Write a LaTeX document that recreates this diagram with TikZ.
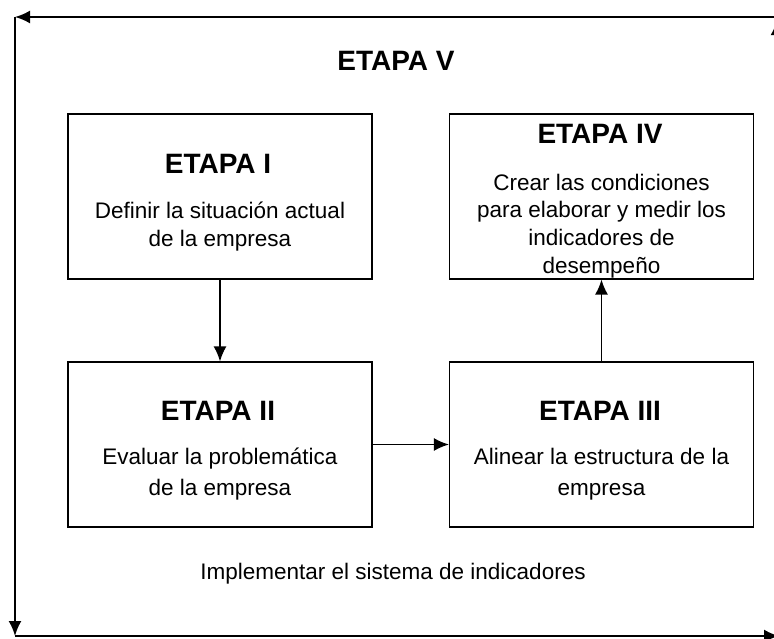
\documentclass[tikz,border=0pt]{standalone}
\usepackage{fontspec}
\setmainfont{Liberation Sans}
\usetikzlibrary{arrows.meta,positioning,calc}

\begin{document}
\begin{tikzpicture}[
    x=1pt, y=-1pt,
    >={Latex[length=15pt,width=13pt]},
    stage/.style={rectangle, draw, line width=1.3pt, inner sep=0pt, minimum width=304, minimum height=165},
    title/.style={anchor=base, font=\bfseries\fontsize{28}{32}\selectfont},
    txt/.style={anchor=base, align=center, font=\fontsize{22.5}{27.5}\selectfont},
    wide/.style={font=\fontsize{22.5}{31.5}\selectfont},
    link/.style={->, line width=1.4pt},
    frame/.style={->, line width=2pt}
]
    \useasboundingbox (0,0) rectangle (774,639);

    % Outer cycle (Etapa V)
    \coordinate (tl) at (15,17);
    \coordinate (bl) at (15,636);
    \coordinate (br) at (779,636);
    \coordinate (tr) at (777,17);
    \coordinate (tr2) at (777,20);
    \draw[frame] (tr) -- (tl);
    \draw[frame] (tl) -- (bl);
    \draw[frame] (bl) -- (br);
    \draw[frame] (br) -- (tr2);

    \node[title] (t5) at (396,71) {ETAPA V};
    \node[txt] (d5) at (393,579) {Implementar el sistema de indicadores};

    % Stage boxes
    \node[stage] (e1) at (220,196.5) {};
    \node[stage] (e4) at (601.5,196.5) {};
    \node[stage] (e2) at (220,444.5) {};
    \node[stage] (e3) at (601.5,444.5) {};

    % Texts (base = last line)
    \node[title] (t1) at (218,174) {ETAPA I};
    \node[txt] (d1) at (220,246.5) {Definir la situación actual\\de la empresa};

    \node[title] (t4) at (600,144) {ETAPA IV};
    \node[txt] (d4) at (601.5,273) {Crear las condiciones\\para elaborar y medir los\\indicadores de\\desempeño};

    \node[title] (t2) at (218,420) {ETAPA II};
    \node[txt, wide] (d2) at (220,495.5) {Evaluar la problemática\\de la empresa};

    \node[title] (t3) at (600,420) {ETAPA III};
    \node[txt, wide] (d3) at (601.5,495.5) {Alinear la estructura de la\\empresa};

    % Links between stages
    \draw[link] (e1) -- (e2);
    \draw[link] (e2) -- (e3);
    \draw[link] (e3) -- (e4);
\end{tikzpicture}
\end{document}
